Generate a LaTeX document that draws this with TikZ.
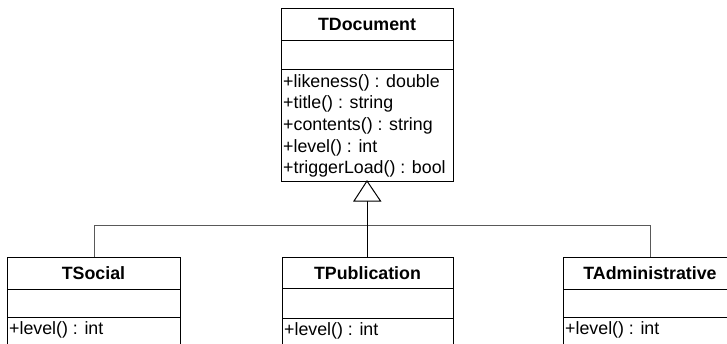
\documentclass[tikz,border=0pt]{standalone}
\usepackage{fontspec}
\setmainfont{Liberation Sans}
\begin{document}
\begin{tikzpicture}[x=1pt,y=-1pt,
  box/.style={draw=black,line width=1pt},
  title/.style={font=\fontsize{17.8}{21}\selectfont\bfseries,inner sep=0pt,anchor=center},
  member/.style={font=\fontsize{17.8}{21.7}\selectfont,inner sep=0pt,anchor=base west},
  link/.style={draw=black!65,line width=1pt},
  gen/.style={draw=black,line width=1pt}]
\useasboundingbox (0,0) rectangle (727,343);
\begin{scope}
\clip (0,0) rectangle (727,343);

% base class
\draw[box] (281,8) rectangle (453,181);
\draw[box] (281,40) -- (453,40);
\draw[box] (281,69) -- (453,69);
\node[title] (tdoc) at (367,24) {TDocument};
\node[member] (m1) at (283,87) {+likeness() : double};
\node[member] (m2) at (283,108.7) {+title() : string};
\node[member] (m3) at (283,130.4) {+contents() : string};
\node[member] (m4) at (283,152.1) {+level() : int};
\node[member] (m5) at (283,173.8) {+triggerLoad() : bool};
\coordinate (docbot) at (367,181);

% derived classes
\draw[box] (7,257) rectangle (180,380);
\draw[box] (7,289) -- (180,289);
\draw[box] (7,317) -- (180,317);
\node[title] (tsoc) at (93.5,273) {TSocial};
\node[member] (s1) at (9,334) {+level() : int};
\coordinate (soctop) at (94,257);

\draw[box] (282,257) rectangle (453,380);
\draw[box] (282,288) -- (453,288);
\draw[box] (282,318) -- (453,318);
\node[title] (tpub) at (367.5,273) {TPublication};
\node[member] (p1) at (284,335) {+level() : int};
\coordinate (pubtop) at (367,257);

\draw[box] (563,257) rectangle (737,380);
\draw[box] (563,289) -- (737,289);
\draw[box] (563,317) -- (737,317);
\node[title] (tadm) at (650,273) {TAdministrative};
\node[member] (a1) at (565,334) {+level() : int};
\coordinate (admtop) at (650,257);

% generalisation connectors
\coordinate (tribase) at (367,201);
\coordinate (busL) at (94,225);
\coordinate (busR) at (650,225);
\draw[link] (soctop) -- (busL) -- (busR) -- (admtop);
\draw[gen] (tribase) -- (pubtop);
\draw[gen,fill=white,line join=miter] (docbot) -- (380.5,201) -- (354,201) -- cycle;
\end{scope}
\end{tikzpicture}
\end{document}
